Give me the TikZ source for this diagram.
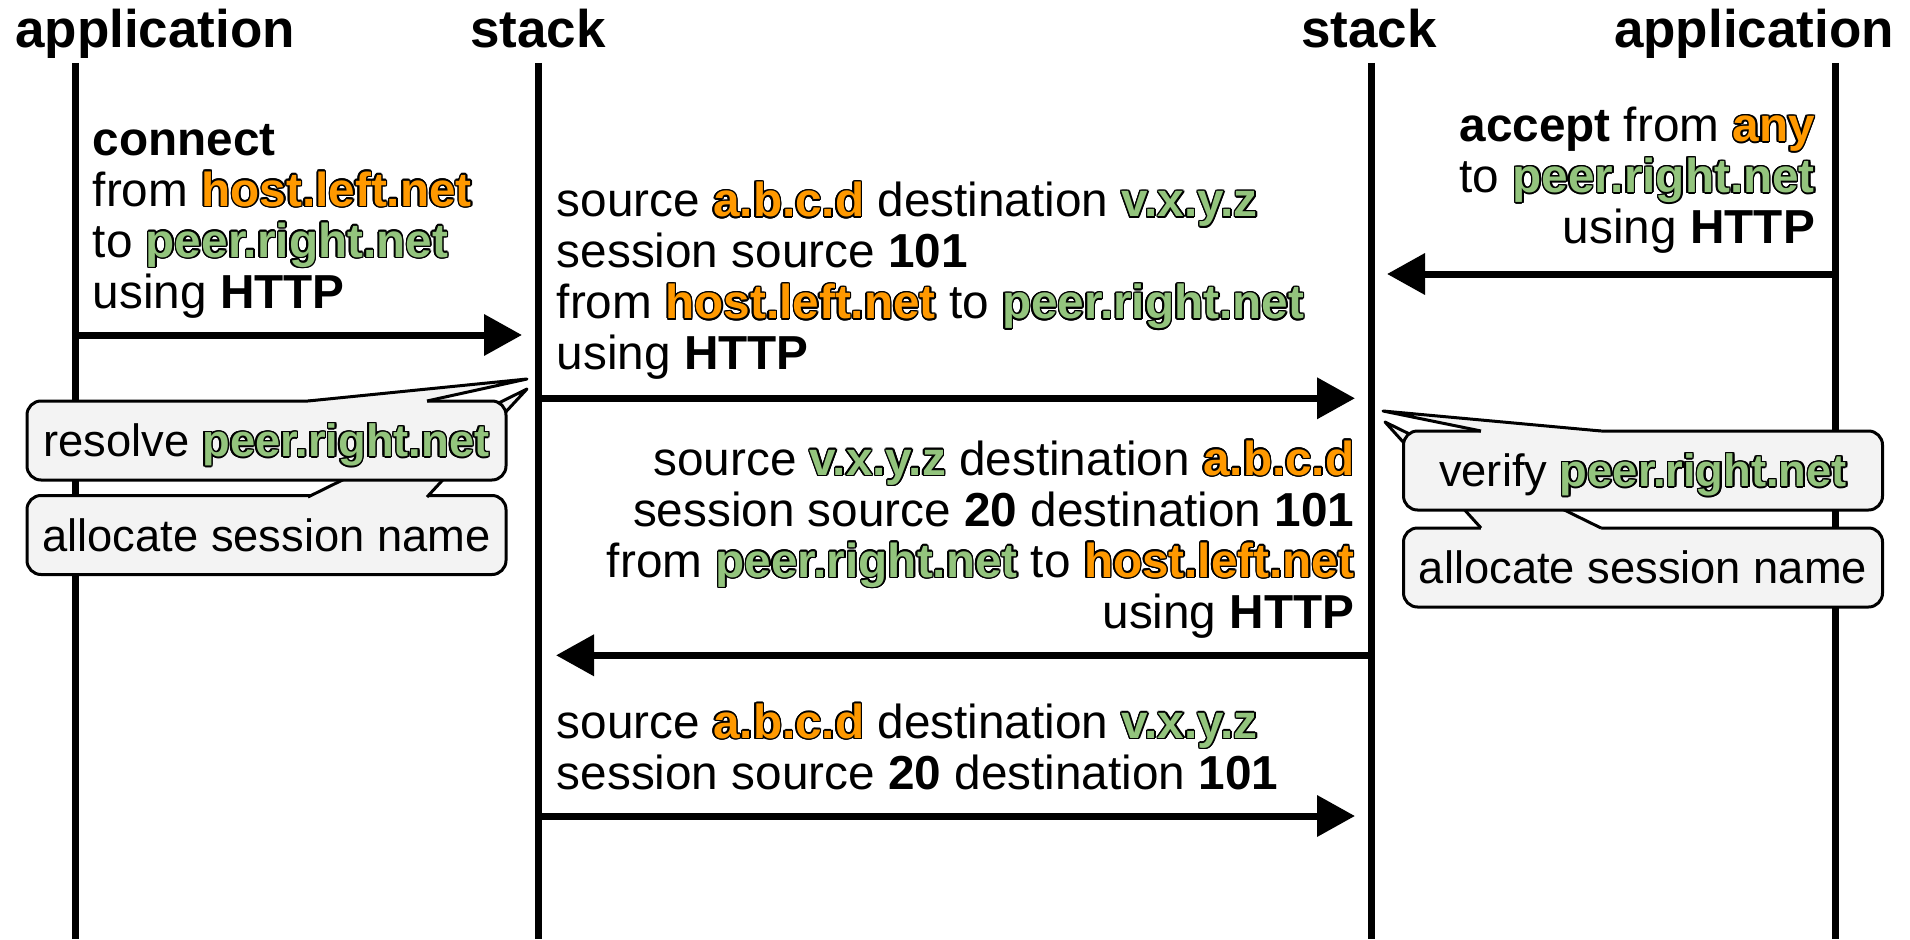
\documentclass[tikz,border=0pt]{standalone}
\usepackage{fontspec}
\setmainfont{Liberation Sans}
\usepackage[copies]{contour}
\usetikzlibrary{arrows.meta}
\definecolor{ora}{HTML}{FF9900}
\definecolor{grn}{HTML}{93C47D}
\definecolor{boxgray}{HTML}{F3F3F3}
\contourlength{1.5pt}
\newcommand\outlined[2]{{\color{#1}\contour{black}{\bfseries #2}}}
\newcommand\hlo[1]{\outlined{ora}{#1}}
\newcommand\hlg[1]{\outlined{grn}{#1}}
\tikzset{
  hdr/.style={font=\fontsize{53}{60}\selectfont\bfseries, inner sep=0pt},
  txt/.style={font=\fontsize{47.7}{51}\selectfont, inner sep=0pt},
  life/.style={line width=7pt},
  msg/.style={line width=7pt, -{Triangle[length=38pt,width=40pt]}},
  callout/.style={draw, line width=3pt, fill=boxgray, rounded corners=14pt,
    minimum width=479pt, minimum height=79pt, inner sep=0pt,
    font=\fontsize{45.3}{51}\selectfont, text height=34pt, text depth=2pt},
  tailfill/.style={fill=boxgray},
  tailedge/.style={line width=3pt, line join=round}
}
\begin{document}
\begin{tikzpicture}[x=1pt,y=-1pt]
\useasboundingbox (0,0) rectangle (1910,939);

% headers
\node[hdr, anchor=base west] (happL) at (15,47.5) {application};
\node[hdr, anchor=base] (hstL) at (538,47.5) {stack};
\node[hdr, anchor=base] (hstR) at (1369,47.5) {stack};
\node[hdr, anchor=base east] (happR) at (1894,47.5) {application};

% lifelines
\coordinate (l1t) at (75.5,63);  \coordinate (l1b) at (75.5,939);
\coordinate (l2t) at (538,63);   \coordinate (l2b) at (538,939);
\coordinate (l3t) at (1371.6,63); \coordinate (l3b) at (1371.6,939);
\coordinate (l4t) at (1835.7,63); \coordinate (l4b) at (1835.7,939);
\draw[life] (l1t) -- (l1b);
\draw[life] (l2t) -- (l2b);
\draw[life] (l3t) -- (l3b);
\draw[life] (l4t) -- (l4b);

% texts
\node[txt, anchor=north west, align=left] (t1) at (92.6,119.3)
  {\strut\textbf{connect}\\ from \hlo{host.left.net}\\ to \hlg{peer.right.net}\\ using \textbf{HTTP}};
\node[txt, anchor=north east, align=right] (t0) at (1815,105.6)
  {\strut\textbf{accept} from \hlo{any}\\ to \hlg{peer.right.net}\\ using \textbf{HTTP}};
\node[txt, anchor=north west, align=left] (m1) at (556.6,181)
  {\strut source \hlo{a.b.c.d} destination \hlg{v.x.y.z}\\ session source \textbf{101}\\ from \hlo{host.left.net} to \hlg{peer.right.net}\\ using \textbf{HTTP}};
\node[txt, anchor=north east, align=right] (m3) at (1354.5,439.3)
  {\strut source \hlg{v.x.y.z} destination \hlo{a.b.c.d}\\ session source \textbf{20} destination \textbf{101}\\ from \hlg{peer.right.net} to \hlo{host.left.net}\\ using \textbf{HTTP}};
\node[txt, anchor=north west, align=left] (m4) at (556.6,702.5)
  {\strut source \hlo{a.b.c.d} destination \hlg{v.x.y.z}\\ session source \textbf{20} destination \textbf{101}};

% arrows
\coordinate (a1s) at (75.5,335);   \coordinate (a1e) at (522,335);
\coordinate (a2s) at (538,398.3);  \coordinate (a2e) at (1355,398.3);
\coordinate (a3s) at (1835.7,274); \coordinate (a3e) at (1387,274);
\coordinate (a4s) at (1371.6,655.3); \coordinate (a4e) at (556,655.3);
\coordinate (a5s) at (538,816);    \coordinate (a5e) at (1355,816);
\draw[msg] (a1s) -- (a1e);
\draw[msg] (a2s) -- (a2e);
\draw[msg] (a3s) -- (a3e);
\draw[msg] (a4s) -- (a4e);
\draw[msg] (a5s) -- (a5e);

% left callouts
\node[callout] (lb2) at (266.5,535) {allocate session name};
\coordinate (lt2a) at (308,497); \coordinate (lt2b) at (427,497); \coordinate (lt2tip) at (527,389);
\fill[tailfill] (308,499.5) -- (lt2a) -- (lt2tip) -- (lt2b) -- (427,499.5) -- cycle;
\draw[tailedge] (lt2a) -- (lt2tip) -- (lt2b);
\node[callout] (lb1) at (266.5,440.5) {resolve \hlg{peer.right.net}};
\coordinate (lt1a) at (308,401); \coordinate (lt1b) at (427,401); \coordinate (lt1tip) at (527,379);
\fill[tailfill] (308,403.5) -- (lt1a) -- (lt1tip) -- (lt1b) -- (427,403.5) -- cycle;
\draw[tailedge] (lt1a) -- (lt1tip) -- (lt1b);

% right callouts
\node[callout] (rb2) at (1643,567.5) {allocate session name};
\coordinate (rt2a) at (1481,528); \coordinate (rt2b) at (1601,528); \coordinate (rt2tip) at (1385,422);
\fill[tailfill] (1481,530.5) -- (rt2a) -- (rt2tip) -- (rt2b) -- (1601,530.5) -- cycle;
\draw[tailedge] (rt2a) -- (rt2tip) -- (rt2b);
\node[callout] (rb1) at (1643,470.5) {verify \hlg{peer.right.net}};
\coordinate (rt1a) at (1481,431); \coordinate (rt1b) at (1601,431); \coordinate (rt1tip) at (1383,411);
\fill[tailfill] (1481,433.5) -- (rt1a) -- (rt1tip) -- (rt1b) -- (1601,433.5) -- cycle;
\draw[tailedge] (rt1a) -- (rt1tip) -- (rt1b);
\end{tikzpicture}
\end{document}
